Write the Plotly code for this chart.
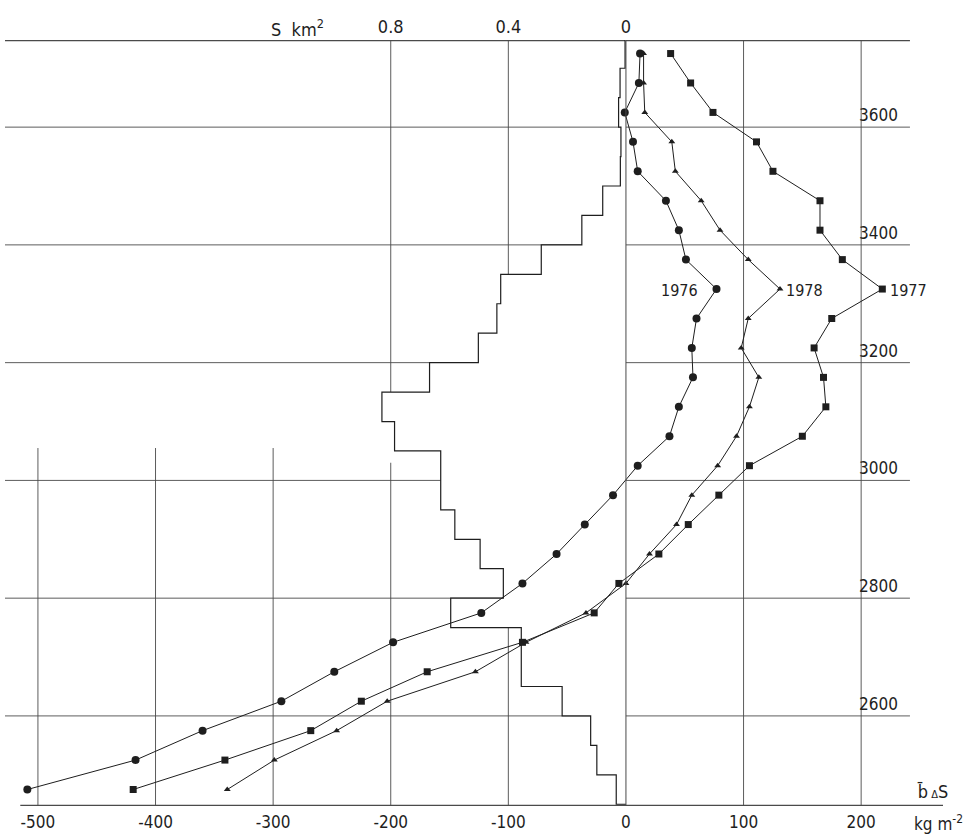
import plotly.graph_objects as go

# ---------------- data ----------------
altitude = [3725, 3675, 3625, 3575, 3525, 3475, 3425, 3375, 3325, 3275, 3225,
            3175, 3125, 3075, 3025, 2975, 2925, 2875, 2825, 2775, 2725, 2675,
            2625, 2575, 2525, 2475]

b_1976 = [12, 11, -1, 6, 10, 34, 45, 51, 77, 60, 56, 57, 45, 37, 10, -11,
          -35, -59, -88, -123, -198, -248, -293, -360, -417, -509]
b_1977 = [38, 55, 74, 111, 125, 165, 165, 184, 218, 175, 160, 168, 170, 150,
          105, 79, 53, 28, -6, -27, -88, -169, -225, -268, -341, -419]
b_1978 = [15, 15, 16, 39, 42, 64, 80, 104, 131, 104, 98, 113, 105, 94, 78,
          56, 43, 20, 0, -34, -85, -128, -203, -246, -299, -339]

band_top = [3750, 3700, 3650, 3600, 3550, 3500, 3450, 3400, 3350, 3300, 3250,
            3200, 3150, 3100, 3050, 3000, 2950, 2900, 2850, 2800, 2750, 2700,
            2650, 2600, 2550, 2500]
band_bottom = [3700, 3650, 3600, 3550, 3500, 3450, 3400, 3350, 3300, 3250,
               3200, 3150, 3100, 3050, 3000, 2950, 2900, 2850, 2800, 2750,
               2700, 2650, 2600, 2550, 2500, 2450]
area_S = [0.003, 0.020, 0.025, 0.017, 0.019, 0.079, 0.150, 0.288, 0.426,
          0.439, 0.502, 0.668, 0.830, 0.787, 0.630, 0.630, 0.582, 0.496,
          0.417, 0.596, 0.356, 0.356, 0.217, 0.120, 0.099, 0.033]

x_ticks = [-500, -400, -300, -200, -100, 0, 100, 200]
x_ticktext = ["-500", "-400", "-300", "-200", "-100", "0", "100", "200"]
s_ticks = [0.8, 0.4, 0]
s_ticktext = ["0.8", "0.4", "0"]
alt_ticks = [3600, 3400, 3200, 3000, 2800, 2600]
alt_ticktext = ["3600", "3400", "3200", "3000", "2800", "2600"]

# ---------------- styling ----------------
FONT = "Liberation Sans Narrow, DejaVu Sans Condensed, Roboto, DejaVu Sans, sans-serif"
INK = "#1e1e1e"
GRID = "#4a4a4a"
S_PER_B = 1.0 / 250.0          # 0.4 km2 sits on the -100 line

X_MIN, X_MAX = -528, 269.6
GRID_RIGHT = 241.5
Y_MIN, Y_MAX = 2447, 3748

fig = go.Figure()

# histogram of area S on the base (S) axis, white-filled so it masks the grid
hx, hy = [0], [band_top[0]]
for s, t, b in zip(area_S, band_top, band_bottom):
    hx += [s, s]
    hy += [t, b]
hx.append(0)
hy.append(band_bottom[-1])
fig.add_trace(go.Scatter(x=hx, y=hy, xaxis="x", yaxis="y", mode="lines",
                         fill="toself", fillcolor="white",
                         line=dict(color=INK, width=1.2),
                         hoverinfo="skip", showlegend=False))

# mass balance profiles on the overlaid b-axis (drawn above the histogram)
series = [
    ("1976", b_1976, "circle", 8),
    ("1978", b_1978, "triangle-up", 6),
    ("1977", b_1977, "square", 7),
]
for name, vals, sym, size in series:
    fig.add_trace(go.Scatter(x=vals, y=altitude, xaxis="x2", yaxis="y",
                             mode="lines+markers", name=name,
                             line=dict(color=INK, width=1),
                             marker=dict(symbol=sym, size=size, color=INK),
                             showlegend=False))

# grid lines (shapes so they can stop where the original stops)
shapes = []
for a in alt_ticks:
    shapes.append(dict(type="line", xref="x2", yref="y", x0=X_MIN, x1=GRID_RIGHT,
                       y0=a, y1=a, line=dict(color=GRID, width=0.9), layer="below"))
shapes.append(dict(type="line", xref="x2", yref="y", x0=X_MIN, x1=GRID_RIGHT,
                   y0=Y_MAX - 1, y1=Y_MAX - 1, line=dict(color=GRID, width=1.1), layer="below"))
shapes.append(dict(type="line", xref="x2", yref="y", x0=-515, x1=X_MAX,
                   y0=Y_MIN + 1, y1=Y_MIN + 1, line=dict(color=GRID, width=1.1), layer="below"))
vertical_segments = [
    (-500, 3055, Y_MIN), (-400, 3055, Y_MIN), (-300, 3055, Y_MIN),
    (-200, Y_MAX, 3150), (-200, 3030, Y_MIN),
    (-100, Y_MAX, 3350), (-100, 2750, Y_MIN),
    (100, Y_MAX, Y_MIN), (200, Y_MAX, Y_MIN),
]
for xv, ya, yb in vertical_segments:
    shapes.append(dict(type="line", xref="x2", yref="y", x0=xv, x1=xv, y0=ya, y1=yb,
                       line=dict(color=GRID, width=0.9), layer="below"))
shapes.append(dict(type="line", xref="x2", yref="y", x0=0, x1=0, y0=Y_MAX, y1=Y_MIN,
                   line=dict(color=GRID, width=1), layer="above"))

annotations = []
for a, t in zip(alt_ticks, alt_ticktext):
    annotations.append(dict(x=215, y=a, xref="x2", yref="y", text=t, showarrow=False,
                            xanchor="center", yanchor="bottom", yshift=0,
                            font=dict(family=FONT, size=17, color=INK)))
annotations.append(dict(x=63, y=3322, xref="x2", yref="y", text="1976", showarrow=False,
                        xanchor="right", yanchor="middle",
                        font=dict(family=FONT, size=16, color=INK)))
annotations.append(dict(x=134, y=3322, xref="x2", yref="y", text="1978", showarrow=False,
                        xanchor="left", yanchor="middle",
                        font=dict(family=FONT, size=16, color=INK)))
annotations.append(dict(x=223, y=3322, xref="x2", yref="y", text="1977", showarrow=False,
                        xanchor="left", yanchor="middle",
                        font=dict(family=FONT, size=16, color=INK)))
annotations.append(dict(x=-279, y=1.0157, xref="x2", yref="paper",
                        text="S  km<sup>2</sup>", showarrow=False,
                        xanchor="center", yanchor="middle",
                        font=dict(family=FONT, size=18, color=INK)))
annotations.append(dict(x=261, y=2472, xref="x2", yref="y",
                        text="b\u0304<span style='font-size:11px'> \u0394</span>S",
                        showarrow=False, xanchor="center", yanchor="middle",
                        font=dict(family=FONT, size=18, color=INK)))
annotations.append(dict(x=266, y=-0.022, xref="x2", yref="paper",
                        text="kg m<sup>-2</sup>", showarrow=False,
                        xanchor="center", yanchor="middle",
                        font=dict(family=FONT, size=17, color=INK)))

fig.update_layout(
    width=971, height=838,
    margin=dict(l=5, r=28, t=40, b=32, autoexpand=False),
    paper_bgcolor="white", plot_bgcolor="white",
    font=dict(family=FONT, size=18, color=INK),
    xaxis=dict(range=[-X_MIN * S_PER_B, -X_MAX * S_PER_B], side="top",
               tickvals=s_ticks, ticktext=s_ticktext, showgrid=False, zeroline=False,
               showline=False, ticks="", ticklabelstandoff=2, automargin=False,
               tickfont=dict(family=FONT, size=18, color=INK)),
    xaxis2=dict(range=[X_MIN, X_MAX], overlaying="x", side="bottom",
                tickvals=x_ticks, ticktext=x_ticktext,
                showgrid=False, zeroline=False, showline=False, ticks="",
                ticklabelstandoff=4, automargin=False,
                tickfont=dict(family=FONT, size=17, color=INK)),
    yaxis=dict(range=[Y_MIN, Y_MAX], showgrid=False, zeroline=False,
               showline=False, showticklabels=False, ticks="", automargin=False),
    shapes=shapes,
    annotations=annotations,
)

fig.write_html("out.html", config={"displayModeBar": False},
               post_script="document.body.style.margin='0';document.body.style.overflow='hidden';")
